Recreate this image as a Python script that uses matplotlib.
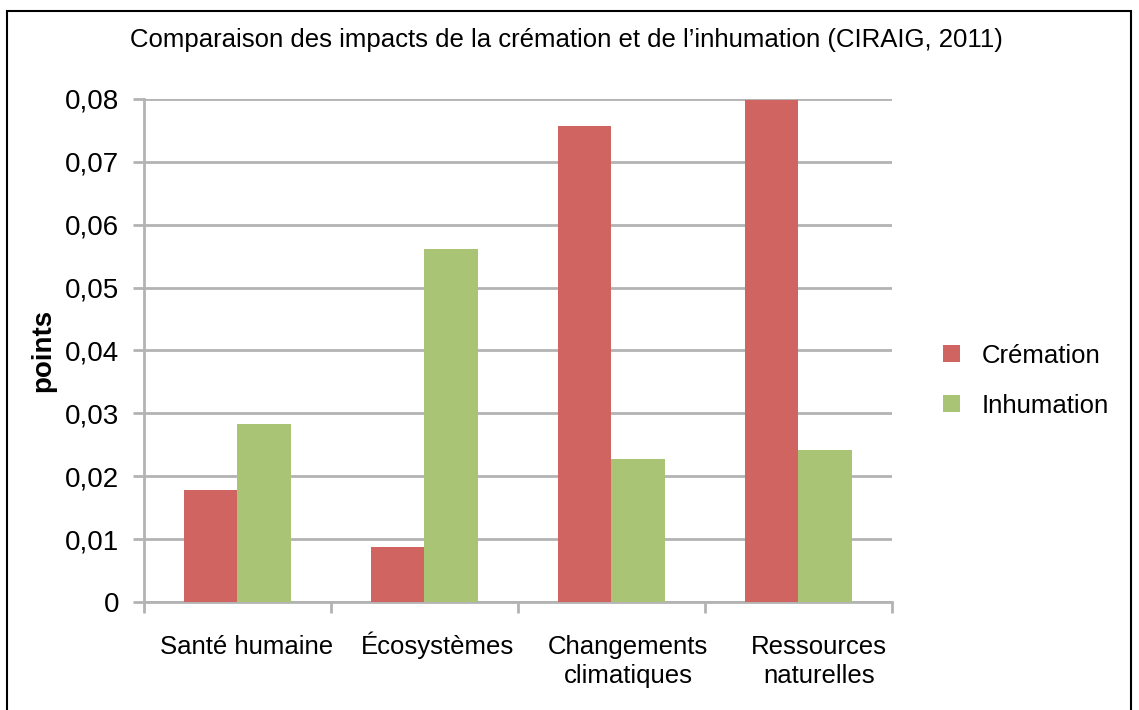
import matplotlib
matplotlib.use("Agg")
import matplotlib.pyplot as plt
from matplotlib.patches import Rectangle
from matplotlib.ticker import FuncFormatter, FixedLocator
import matplotlib.transforms as mtransforms
import numpy as np

plt.rcParams["font.family"] = ["Liberation Sans", "DejaVu Sans"]

# Données (points)
categories = ["Santé humaine", "Écosystèmes", "Changements\nclimatiques", "Ressources\nnaturelles"]
cremation = [0.0178, 0.0087, 0.0757, 0.0798]
inhumation = [0.0283, 0.0561, 0.0227, 0.0242]
series_names = ["Crémation", "Inhumation"]

RED = "#D06461"
GREEN = "#A9C475"
GRID = "#B3B3B3"

fig = plt.figure(figsize=(11.39, 7.10), dpi=100)
ax = fig.add_axes([0.1264, 0.1521, 0.7831 - 0.1264, 0.8606 - 0.1521])

x = np.arange(len(categories))
w = 0.286
ax.bar(x - w / 2, cremation, w, color=RED, label=series_names[0], zorder=3)
ax.bar(x + w / 2, inhumation, w, color=GREEN, label=series_names[1], zorder=3)

ax.set_xlim(-0.5, len(categories) - 0.5)
ax.set_ylim(0, 0.08)
ax.set_yticks(np.arange(0, 0.081, 0.01))
ax.yaxis.set_major_formatter(FuncFormatter(
    lambda v, p: "0" if abs(v) < 1e-9 else f"{v:.2f}".replace(".", ",")))
ax.grid(axis="y", color=GRID, linewidth=2, zorder=0)

# graduations aux limites des catégories
ax.xaxis.set_major_locator(FixedLocator(np.arange(-0.5, len(categories), 1.0)))
ax.xaxis.set_major_formatter(FuncFormatter(lambda v, p: ""))
ax.tick_params(axis="x", which="major", length=8, width=2, color=GRID, direction="out")
ax.tick_params(axis="y", length=8, width=2, color=GRID, labelsize=20, pad=10)

# étiquettes de catégories, ligne par ligne sur une même ligne de base
# (légèrement décalées vers la droite)
trans = mtransforms.blended_transform_factory(ax.transData, ax.transAxes)
for xi, lab in zip(x, categories):
    for k, line in enumerate(lab.split("\n")):
        ax.text(xi * 1.02 + 0.05, -0.104 - k * 0.0577, line, transform=trans,
                ha="center", va="baseline", fontsize=18.5)

for s in ["top", "right"]:
    ax.spines[s].set_visible(False)
for s in ["left", "bottom"]:
    ax.spines[s].set_color(GRID)
    ax.spines[s].set_linewidth(2)

ax.set_ylabel("points", fontsize=20, fontweight="bold", labelpad=6)

fig.text(0.497, 0.943, "Comparaison des impacts de la crémation et de l\u2019inhumation (CIRAIG, 2011)",
         ha="center", va="center", fontsize=18.5)

ax.legend(loc="center left", bbox_to_anchor=(1.038, 0.44), frameon=False, fontsize=18.5,
          handlelength=0.65, handleheight=0.65, handletextpad=0.85, labelspacing=1.0)

# cadre autour de la figure
fig.patches.append(Rectangle((7 / 1139, -0.05), (1131 - 7) / 1139, 1.05 - 11 / 710,
                             transform=fig.transFigure, fill=False,
                             edgecolor="black", linewidth=1.5, zorder=10))

fig.savefig("out.png", dpi=100)
